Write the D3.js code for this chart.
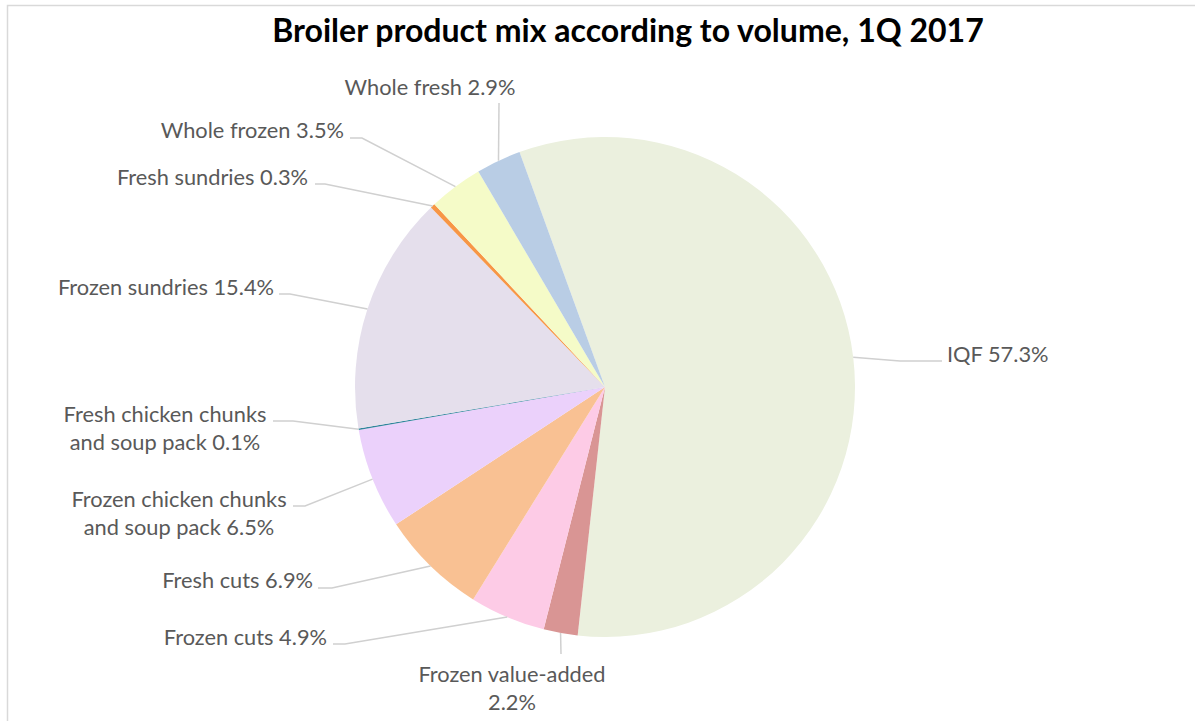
<!DOCTYPE html>
<html>
<head>
<meta charset="utf-8">
<script src="https://cdnjs.cloudflare.com/ajax/libs/d3/7.8.5/d3.min.js"></script>
<style>
  body { margin: 0; background: #fff; }
  text { font-family: Lato, "Open Sans", sans-serif; }
</style>
</head>
<body>
<div id="chart"></div>
<script>
// slice order, clockwise from IQF
var categories = ["IQF", "Frozen value-added", "Frozen cuts", "Fresh cuts",
  "Frozen chicken chunks and soup pack", "Fresh chicken chunks and soup pack",
  "Frozen sundries", "Fresh sundries", "Whole frozen", "Whole fresh"];
var shares = [57.3, 2.2, 4.9, 6.9, 6.5, 0.1, 15.4, 0.3, 3.5, 2.9];
var labelLines = [
  ["IQF 57.3%"],
  ["Frozen value-added", "2.2%"],
  ["Frozen cuts 4.9%"],
  ["Fresh cuts 6.9%"],
  ["Frozen chicken chunks", "and soup pack 6.5%"],
  ["Fresh chicken chunks", "and soup pack 0.1%"],
  ["Frozen sundries 15.4%"],
  ["Fresh sundries 0.3%"],
  ["Whole frozen 3.5%"],
  ["Whole fresh 2.9%"]
];
var colors = ["#EBF0DE", "#D99594", "#FDCBE6", "#F9C193", "#EBD1FB",
  "#31859C", "#E5DFEC", "#F79646", "#F5FBC8", "#B9CDE5"];

var width = 1195, height = 721;
var cx = 605, cy = 387, radius = 250;

// where each label sits: text x, first baseline, anchor, leader attach point, elbow
var labelPos = [
  {x: 947, y: 362, anchor: "start",  ax: 942, ay: 361, ex: 900, ey: 361},
  {x: 512, y: 682, anchor: "middle", ax: 561, ay: 654, ex: 561, ey: 654},
  {x: 327, y: 645, anchor: "end",    ax: 333, ay: 644, ex: 345, ey: 644},
  {x: 313, y: 588, anchor: "end",    ax: 318, ay: 588, ex: 332, ey: 588},
  {x: 179, y: 507, anchor: "middle", ax: 293, ay: 506, ex: 305, ey: 506},
  {x: 165, y: 422, anchor: "middle", ax: 273, ay: 421, ex: 293, ey: 421},
  {x: 274, y: 295, anchor: "end",    ax: 279, ay: 294, ex: 290, ey: 294},
  {x: 308, y: 185, anchor: "end",    ax: 315, ay: 184, ex: 325, ey: 184},
  {x: 344, y: 138, anchor: "end",    ax: 350, ay: 138, ex: 362, ey: 138},
  {x: 430, y: 95,  anchor: "middle", ax: 499, ay: 103, ex: 499, ey: 103}
];

var svg = d3.select("#chart")
  .append("svg")
  .attr("width", width)
  .attr("height", height);

// chart frame
svg.append("rect")
  .attr("x", 7.5)
  .attr("y", 5.5)
  .attr("width", 1300)
  .attr("height", 900)
  .attr("fill", "none")
  .attr("stroke", "#D9D9D9")
  .attr("stroke-width", 1.5);

var title = svg.append("text")
  .attr("x", 628)
  .attr("y", 42)
  .attr("text-anchor", "middle")
  .attr("font-weight", "bold")
  .attr("font-size", 28)
  .attr("fill", "#000")
  .text("Broiler product mix according to volume, 1Q 2017");
// fit title to its width in the picture
var tw = title.node().getComputedTextLength();
title.attr("font-size", 28 * 712 / tw);

var pie = d3.pie()
  .sort(null)
  .value(d => d)
  .startAngle(-20 * Math.PI / 180)
  .endAngle(340 * Math.PI / 180);

var arcs = pie(shares);
var arc = d3.arc().innerRadius(0).outerRadius(radius);

var pieGroup = svg.append("g")
  .attr("transform", `translate(${cx}, ${cy})`);

pieGroup.selectAll("path")
  .data(arcs)
  .enter()
  .append("path")
  .attr("d", arc)
  .attr("fill", (d, i) => colors[i]);

// leader lines
function edgePoint(d) {
  var a = (d.startAngle + d.endAngle) / 2;
  return [cx + radius * Math.sin(a), cy - radius * Math.cos(a)];
}

svg.append("g")
  .selectAll("polyline")
  .data(arcs)
  .enter()
  .append("polyline")
  .attr("points", function(d, i) {
    var p = labelPos[i];
    var e = edgePoint(d);
    return [[p.ax, p.ay], [p.ex, p.ey], e].map(q => q.join(",")).join(" ");
  })
  .attr("fill", "none")
  .attr("stroke", "#D0D0D0")
  .attr("stroke-width", 1.5);

// labels
var labelSize = 19;
var labels = svg.append("g")
  .selectAll("text")
  .data(arcs)
  .enter()
  .append("text")
  .attr("x", (d, i) => labelPos[i].x)
  .attr("y", (d, i) => labelPos[i].y)
  .attr("text-anchor", (d, i) => labelPos[i].anchor)
  .attr("font-size", labelSize)
  .attr("fill", "#595959");

labels.each(function(d, i) {
  var t = d3.select(this);
  labelLines[i].forEach(function(line, j) {
    t.append("tspan")
      .attr("x", labelPos[i].x)
      .attr("dy", j === 0 ? 0 : 28)
      .text(line);
  });
});

// fit label size so "Whole fresh 2.9%" matches its width in the picture
var ref = labels.filter((d, i) => i === 9).node().getComputedTextLength();
labels.attr("font-size", labelSize * 171 / ref);
</script>
</body>
</html>
